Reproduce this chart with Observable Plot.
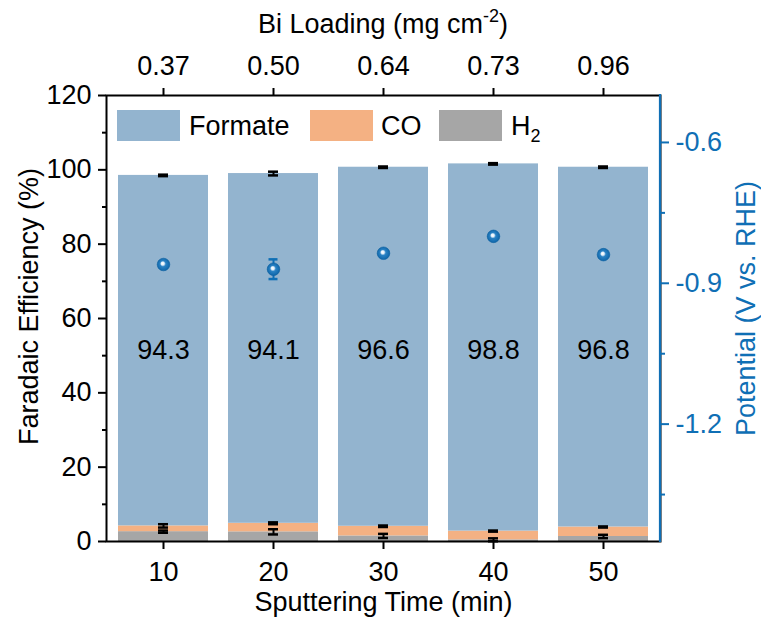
<!DOCTYPE html>
<html><head><meta charset="utf-8">
<script src="https://cdn.jsdelivr.net/npm/d3@7"></script>
<script src="https://cdn.jsdelivr.net/npm/@observablehq/plot@0.6"></script>
<style>body{margin:0;background:#fff;} #chart{width:761px;height:623px;}</style>
</head><body><div id="chart"></div>
<script>
// ---- data ----
const times = [10, 20, 30, 40, 50];
const loadingLabels = ["0.37", "0.50", "0.64", "0.73", "0.96"];
const formate = [94.3, 94.1, 96.6, 98.8, 96.8];
const co = [1.55, 2.3, 2.6, 2.35, 2.55];
const h2 = [2.65, 2.6, 1.5, 0.45, 1.35];
const formateErr = [0.2, 0.5, 0.2, 0.2, 0.2];
const coErr = [0.45, 0.25, 0.2, 0.15, 0.15];
const h2Err = [0.3, 0.7, 0.55, 0.4, 0.45];
const potential = [-0.860, -0.870, -0.836, -0.800, -0.839];
const potentialErr = [0.006, 0.021, 0.004, 0.006, 0.006];
const feTicks = [0, 20, 40, 60, 80, 100, 120];
const feMinorTicks = [10, 30, 50, 70, 90, 110];
const potTicks = [-0.6, -0.9, -1.2];
const potMinorTicks = [-0.75, -1.05, -1.35];
const seriesNames = ["Formate", "CO", "H2"];
const seriesColors = ["#93b4cf", "#f4b183", "#a6a6a6"];
const feDomain = [0, 120];
const potDomain = [-1.45, -0.5];
const labelLevel = 51.4;

// ---- helpers ----
const blue = "#0f6fb5";
const font = "'Liberation Sans', Arial, Helvetica, sans-serif";
const fs = 27;
const toFE = v => (v - potDomain[0]) / (potDomain[1] - potDomain[0]) * (feDomain[1] - feDomain[0]) + feDomain[0];
const fromFE = f => (f - feDomain[0]) / (feDomain[1] - feDomain[0]) * (potDomain[1] - potDomain[0]) + potDomain[0];

const stackRows = [];
times.forEach((t, i) => {
  stackRows.push({time: t, series: "H2", value: h2[i]});
  stackRows.push({time: t, series: "CO", value: co[i]});
  stackRows.push({time: t, series: "Formate", value: formate[i]});
});
const errRows = times.flatMap((t, i) => {
  const h = h2[i], c = h2[i] + co[i], f = c + formate[i];
  return [
    {time: t, lo: h - h2Err[i], hi: h + h2Err[i]},
    {time: t, lo: c - coErr[i], hi: c + coErr[i]},
    {time: t, lo: f - formateErr[i], hi: f + formateErr[i]}
  ];
});
const potRows = times.map((t, i) => ({
  time: t, fe: toFE(potential[i]),
  lo: toFE(potential[i] - potentialErr[i]), hi: toFE(potential[i] + potentialErr[i])
}));
const labelRows = times.map((t, i) => ({time: t, y: labelLevel, text: formate[i].toFixed(1)}));

const defsMark = () => {
  const defs = d3.create("svg:defs");
  const g = defs.append("radialGradient").attr("id", "sphere")
    .attr("cx", "50%").attr("cy", "50%").attr("r", "55%").attr("fx", "42%").attr("fy", "40%");
  g.append("stop").attr("offset", "0%").attr("stop-color", "#ffffff");
  g.append("stop").attr("offset", "22%").attr("stop-color", "#e2eff9");
  g.append("stop").attr("offset", "42%").attr("stop-color", "#2a82c4");
  g.append("stop").attr("offset", "100%").attr("stop-color", "#0a62a6");
  return defs.node();
};

const capInset = 40;
const chart = Plot.plot({
  width: 761, height: 623,
  marginTop: 95, marginRight: 101, marginBottom: 82, marginLeft: 106,
  style: {fontFamily: font, fontSize: fs + "px", background: "white", color: "black", overflow: "visible"},
  x: {type: "band", domain: times, paddingInner: 0.18, paddingOuter: 0.09, axis: null},
  y: {domain: feDomain, axis: null},
  color: {domain: seriesNames, range: seriesColors},
  marks: [
    defsMark,
    Plot.barY(stackRows, {x: "time", y: "value", fill: "series", order: ["H2", "CO", "Formate"]}),
    Plot.ruleX(errRows, {x: "time", y1: "lo", y2: "hi", stroke: "black", strokeWidth: 2}),
    Plot.tickY(errRows, {x: "time", y: "lo", stroke: "black", strokeWidth: 2.5, insetLeft: capInset, insetRight: capInset}),
    Plot.tickY(errRows, {x: "time", y: "hi", stroke: "black", strokeWidth: 2.5, insetLeft: capInset, insetRight: capInset}),
    Plot.text(labelRows, {x: "time", y: "y", text: "text", fill: "black", fontSize: fs}),
    Plot.ruleX(potRows, {x: "time", y1: "lo", y2: "hi", stroke: blue, strokeWidth: 2}),
    Plot.tickY(potRows, {x: "time", y: "lo", stroke: blue, strokeWidth: 2.5, insetLeft: 40.5, insetRight: 40.5}),
    Plot.tickY(potRows, {x: "time", y: "hi", stroke: blue, strokeWidth: 2.5, insetLeft: 40.5, insetRight: 40.5}),
    Plot.dot(potRows, {x: "time", y: "fe", r: 6.3, fill: "url(#sphere)", stroke: "#0b5f9f", strokeWidth: 0.6}),
    Plot.frame({stroke: "black", strokeWidth: 2}),
    Plot.axisY({anchor: "left", ticks: feTicks, tickSize: 8, tickPadding: 7, strokeWidth: 2, label: null, fontSize: fs}),
    Plot.axisY({anchor: "left", ticks: feMinorTicks, tickSize: 4, strokeWidth: 2, tickFormat: () => "", label: null}),
    Plot.axisX({anchor: "bottom", tickSize: 8, tickPadding: 12, strokeWidth: 2, label: null, fontSize: fs}),
    Plot.axisX({anchor: "top", tickSize: 8, tickPadding: 13, strokeWidth: 2, label: null, fontSize: fs,
      tickFormat: d => loadingLabels[times.indexOf(d)]}),
    Plot.axisY({anchor: "right", ticks: potTicks.map(toFE), tickSize: 8, tickPadding: 7, strokeWidth: 2,
      color: blue, label: null, fontSize: fs, tickFormat: d => fromFE(d).toFixed(1)}),
    Plot.axisY({anchor: "right", ticks: potMinorTicks.map(toFE), tickSize: 4, strokeWidth: 2,
      color: blue, label: null, tickFormat: () => ""}),
    Plot.text(["Sputtering Time (min)"], {frameAnchor: "bottom", dy: 69, fontSize: fs, fill: "black"}),
    Plot.text(["Faradaic Efficiency (%)"], {frameAnchor: "left", textAnchor: "middle", dx: -77, dy: -12, rotate: -90, fontSize: fs, fill: "black"}),
    Plot.text(["Potential (V vs. RHE)"], {frameAnchor: "right", textAnchor: "middle", dx: 86, dy: -10, rotate: -90, fontSize: fs, fill: blue})
  ]
});

const svg = d3.select(chart);
// right axis line in blue
svg.append("line").attr("x1", 660).attr("x2", 660).attr("y1", 94).attr("y2", 542)
  .attr("stroke", blue).attr("stroke-width", 2.2);

// top axis title with superscript
const tt = svg.append("text").attr("x", 383).attr("y", 33).attr("text-anchor", "middle")
  .attr("font-size", fs).attr("fill", "black");
tt.append("tspan").text("Bi Loading (mg cm");
tt.append("tspan").attr("font-size", 18).attr("dy", -11).text("-2");
tt.append("tspan").attr("dy", 11).text(")");

// legend
const legendItems = [
  {name: "Formate", x: 117, tx: 189},
  {name: "CO", x: 310, tx: 381},
  {name: "H", sub: "2", x: 439, tx: 511}
];
const lg = svg.append("g").attr("text-anchor", "start");
legendItems.forEach((d, i) => {
  lg.append("rect").attr("x", d.x).attr("y", 110).attr("width", 63).attr("height", 31).attr("fill", seriesColors[i]);
  const t = lg.append("text").attr("x", d.tx).attr("y", 135).attr("font-size", fs).attr("fill", "black").text(d.name);
  if (d.sub) t.append("tspan").attr("font-size", 18).attr("dy", 7).text(d.sub);
});

document.getElementById("chart").appendChild(chart);
</script>
</body></html>
